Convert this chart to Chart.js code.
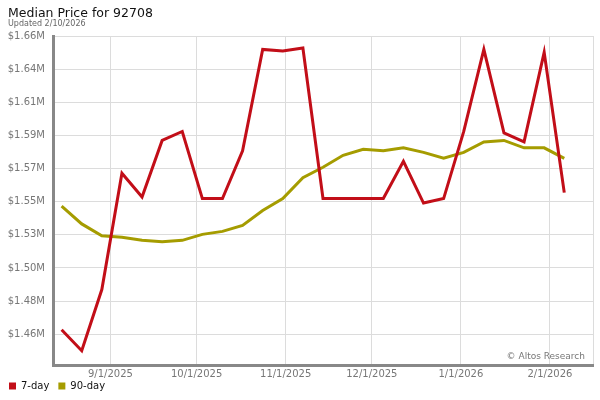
<!DOCTYPE html>
<html>
<head>
<meta charset="utf-8">
<script src="https://cdn.jsdelivr.net/npm/chart.js@4/dist/chart.umd.min.js"></script>
<style>
  html, body { margin: 0; padding: 0; background: #fff; }
  #wrap { position: relative; width: 600px; height: 400px; }
  #chart { display: block; }
  .ttl { position: absolute; left: 8px; white-space: nowrap; font-family: 'DejaVu Sans', Verdana, sans-serif; }
  #title { top: 7px; font-size: 12.5px; line-height: 12.5px; color: #111; }
  #subtitle { top: 20px; font-size: 8px; line-height: 8px; color: #666; }
</style>
</head>
<body>
<div id="wrap">
  <canvas id="chart" width="600" height="400"></canvas>
  <div class="ttl" id="title">Median Price for 92708</div>
  <div class="ttl" id="subtitle">Updated 2/10/2026</div>
</div>
<script>
// Median price chart, weekly points (values in $M)

const weekDates = [
  '2025-08-15','2025-08-22','2025-08-29','2025-09-05','2025-09-12','2025-09-19','2025-09-26',
  '2025-10-03','2025-10-10','2025-10-17','2025-10-24','2025-10-31','2025-11-07','2025-11-14',
  '2025-11-21','2025-11-28','2025-12-05','2025-12-12','2025-12-19','2025-12-26','2026-01-02',
  '2026-01-09','2026-01-16','2026-01-23','2026-01-30','2026-02-06'
];

const sevenDay = [
  1.463, 1.449, 1.490, 1.568, 1.552, 1.590, 1.596, 1.551, 1.551, 1.583, 1.651, 1.650, 1.652,
  1.551, 1.551, 1.551, 1.551, 1.576, 1.548, 1.551, 1.596, 1.651, 1.595, 1.589, 1.649, 1.555
];

const ninetyDay = [
  1.546, 1.534, 1.526, 1.525, 1.523, 1.522, 1.523, 1.527, 1.529, 1.533, 1.543, 1.551, 1.565,
  1.572, 1.580, 1.584, 1.583, 1.585, 1.582, 1.578, 1.582, 1.589, 1.590, 1.585, 1.585, 1.578
];

const xTickDates = ['2025-09-01','2025-10-01','2025-11-01','2025-12-01','2026-01-01','2026-02-01'];
const xTickLabels = ['9/1/2025','10/1/2025','11/1/2025','12/1/2025','1/1/2026','2/1/2026'];
const xRange = ['2025-08-12','2026-02-16'];

const yTickLabels = ['$1.46M','$1.48M','$1.50M','$1.53M','$1.55M','$1.57M','$1.59M','$1.61M','$1.64M','$1.66M'];
const yTickFirst = 1.46;
const yTickLast = 1.66;
const yMin = 1.4394;

const RED = '#c20e18';
const OLIVE = '#a59c00';
const FONT = "'DejaVu Sans', Verdana, sans-serif";

// ------------------------- helpers -------------------------
function dayNum(s){
  const p = s.split('-').map(Number);
  return Date.UTC(p[0], p[1]-1, p[2]) / 864e5;
}

const xs = weekDates.map(dayNum);
const xTickVals = xTickDates.map(dayNum);
const yStep = (yTickLast - yTickFirst) / (yTickLabels.length - 1);
const yTickVals = yTickLabels.map((_, i) => yTickFirst + i*yStep);

// watermark in the lower right of the plot
const watermark = {
  id: 'watermark',
  afterDraw(chart){
    const c = chart.ctx, a = chart.chartArea;
    c.save();
    c.font = '9px ' + FONT;
    c.fillStyle = '#777';
    c.textAlign = 'right';
    c.textBaseline = 'alphabetic';
    c.fillText('\u00A9 Altos Research', a.right - 8, a.bottom - 6);
    c.restore();
  }
};

// pull the legend up right under the axis labels (keeps its horizontal padding)
const legendLift = {
  id: 'legendLift',
  afterLayout(chart){
    const l = chart.legend;
    if(!l) return;
    const h = l.bottom - l.top;
    l.top = chart.chartArea.bottom + 7;
    l.bottom = l.top + h;
  }
};

const ctx = document.getElementById('chart').getContext('2d');
new Chart(ctx, {
  type: 'line',
  data: {
    datasets: [
      {
        label: '7-day',
        data: xs.map((x, i) => ({ x: x, y: sevenDay[i] })),
        borderColor: RED,
        backgroundColor: RED,
        borderWidth: 3,
        pointRadius: 0,
        tension: 0
      },
      {
        label: '90-day',
        data: xs.map((x, i) => ({ x: x, y: ninetyDay[i] })),
        borderColor: OLIVE,
        backgroundColor: OLIVE,
        borderWidth: 3,
        pointRadius: 0,
        tension: 0
      }
    ]
  },
  options: {
    responsive: false,
    animation: false,
    layout: { padding: { left: 0, right: 7, top: 36, bottom: -10 } },
    scales: {
      x: {
        type: 'linear',
        min: dayNum(xRange[0]),
        max: dayNum(xRange[1]),
        afterBuildTicks(scale){
          scale.ticks = xTickVals.concat([dayNum(xRange[1])]).map(v => ({ value: v }));
        },
        afterFit(scale){ scale.height = 16; },
        ticks: {
          autoSkip: false,
          maxRotation: 0,
          padding: 3,
          color: '#777',
          font: { family: FONT, size: 10 },
          callback: (v, i) => xTickLabels[i] || ''
        },
        grid: { color: '#dcdcdc', lineWidth: 1, drawTicks: false },
        border: { color: '#888', width: 3 }
      },
      y: {
        type: 'linear',
        min: yMin,
        max: yTickLast,
        afterBuildTicks(scale){
          scale.ticks = yTickVals.map(v => ({ value: v }));
        },
        afterFit(scale){ scale.width = 53; },
        ticks: {
          autoSkip: false,
          padding: 8,
          color: '#777',
          font: { family: FONT, size: 10 },
          callback: (v, i) => yTickLabels[i]
        },
        grid: { color: '#dcdcdc', lineWidth: 1, drawTicks: false },
        border: { color: '#888', width: 3 }
      }
    },
    plugins: {
      title: { display: false },
      legend: {
        display: true,
        position: 'bottom',
        align: 'start',
        labels: {
          boxWidth: 7,
          boxHeight: 7,
          padding: 9,
          color: '#111',
          font: { family: FONT, size: 10 },
          generateLabels(chart){
            return Chart.defaults.plugins.legend.labels.generateLabels(chart)
              .map(l => Object.assign(l, { lineWidth: 0 }));
          }
        }
      },
      tooltip: { enabled: false }
    }
  },
  plugins: [watermark, legendLift]
});
</script>
</body>
</html>
